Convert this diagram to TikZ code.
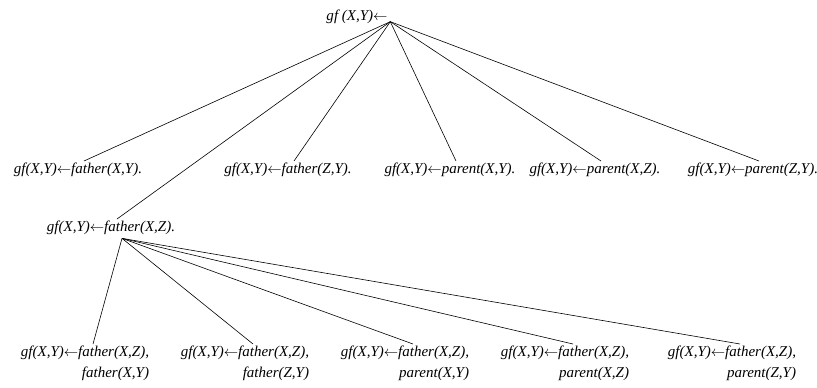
\documentclass[tikz,border=0pt]{standalone}
\usepackage{fontspec}
\setmainfont{Liberation Serif}
\usepackage{tikz}
\usetikzlibrary{positioning}
\newcommand{\impl}{\ensuremath{\leftarrow}}

\begin{document}
\begin{tikzpicture}[x=1bp, y=-1bp, line width=0.6bp,
  clause/.style={font=\fontsize{15bp}{21bp}\selectfont\itshape, inner sep=1.5bp, anchor=north, align=right}]
\useasboundingbox (0,0) rectangle (817,387);
% root of the search tree
\node[clause, anchor=center] (root) at (357,17) {gf (X,Y)\impl};
% first refinements
\foreach \x/\b/\n in {78/father(X{,}Y)./fxy, 288/father(Z{,}Y)./fzy, 450/parent(X{,}Y)./pxy, 595/parent(X{,}Z)./pxz, 753/parent(Z{,}Y)./pzy}
  \node[clause] (\n) at (\x,161) {gf(X,Y)\impl\b};
\node[clause] (fxz) at (111,219) {gf(X,Y)\impl father(X,Z).};
\foreach \n in {fxy,fzy,pxy,pxz,pzy,fxz}
  \draw ([xshift=1bp,yshift=4bp]root.south east) -- ([xshift=6bp]\n.north);
% second refinements of father(X,Z)
\foreach \x/\b/\n in {85/father(X{,}Y)/ffxy, 245/father(Z{,}Y)/ffzy, 405/parent(X{,}Y)/fpxy, 565/parent(X{,}Z)/fpxz, 732/parent(Z{,}Y)/fpzy}
  \node[clause] (\n) at (\x,344) {gf(X,Y)\impl father(X,Z),\\\b};
\foreach \n in {ffxy,ffzy,fpxy,fpxz,fpzy}
  \draw ([xshift=11bp,yshift=-2bp]fxz.south) -- ([xshift=8bp]\n.north);
\end{tikzpicture}
\end{document}
